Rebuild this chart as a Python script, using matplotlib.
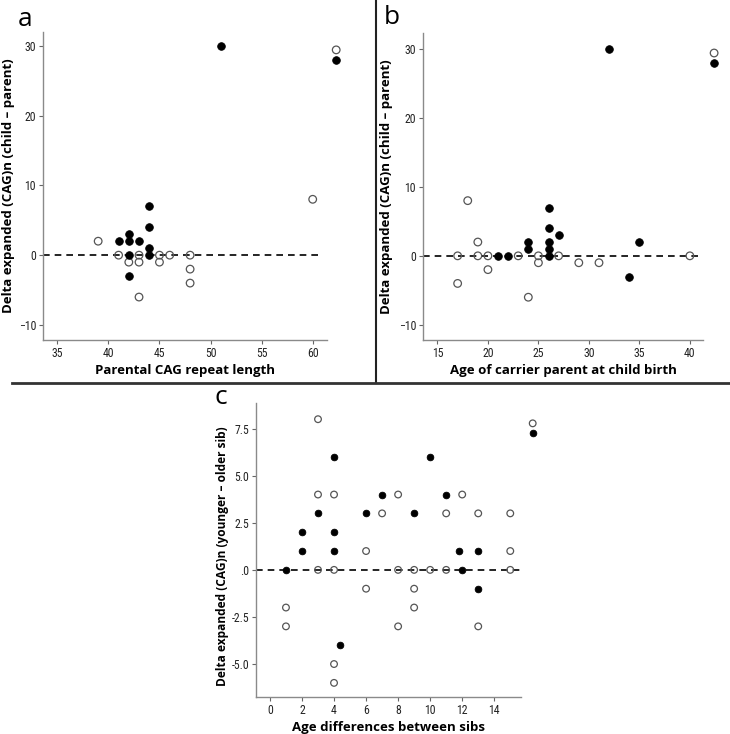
import numpy as np
import matplotlib
matplotlib.use("Agg")
import matplotlib.pyplot as plt
from matplotlib.lines import Line2D
from matplotlib.ticker import FuncFormatter
from matplotlib import font_manager

# panel a: parental CAG repeat length vs delta
a_filled_x = [51, 62.3, 41, 42, 42, 42, 42, 43, 44, 44, 44, 44]
a_filled_y = [30, 28, 2, 3, 2, 0, -3, 2, 7, 4, 1, 0]
a_open_x = [62.3, 60, 39, 41, 42, 43, 43, 43, 45, 45, 46, 48, 48, 48]
a_open_y = [29.4, 8, 2, 0, -1, 0, -1, -6, 0, -1, 0, 0, -2, -4]

# panel b: age of carrier parent vs delta
b_filled_x = [32, 42.4, 21, 22, 24, 24, 26, 26, 26, 26, 26, 27, 34, 35]
b_filled_y = [30, 28, 0, 0, 2, 1, 7, 4, 2, 1, 0, 3, -3, 2]
b_open_x = [42.4, 18, 17, 17, 19, 19, 20, 20, 23, 24, 25, 25, 27, 29, 31, 40]
b_open_y = [29.4, 8, 0, -4, 2, 0, 0, -2, 0, -6, 0, -1, 0, -1, -1, 0]

# panel c: age difference between sibs vs delta
c_filled_x = [1, 2, 2, 3, 4, 4, 4, 4.4, 6, 7, 9, 10, 11, 11.8, 12, 13, 13, 16.4]
c_filled_y = [0, 2, 1, 3, 6, 2, 1, -4, 3, 4, 3, 6, 4, 1, 0, 1, -1, 7.27]
c_open_x = [1, 1, 3, 3, 3, 4, 4, 4, 4, 6, 6, 7, 8, 8, 8, 9, 9, 9, 10, 11, 11, 12, 13, 13, 15, 15, 15, 16.4]
c_open_y = [-2, -3, 8, 4, 0, 4, 0, -5, -6, 1, -1, 3, 4, 0, -3, 0, -1, -2, 0, 3, 0, 4, 3, -3, 3, 1, 0, 7.78]


def pick_font(names, default):
    for n in names:
        try:
            font_manager.findfont(font_manager.FontProperties(family=n), fallback_to_default=False)
            return n
        except Exception:
            pass
    return default


# SPSS uses a narrow font for tick labels
tick_font = [pick_font(['Liberation Sans Narrow', 'DejaVu Sans Condensed', 'Roboto Condensed'], 'Roboto'), 'DejaVu Sans']
label_font = ['Open Sans', 'DejaVu Sans']

fig = plt.figure(figsize=(7.3, 7.34), dpi=100)


def style_axes(ax, xlabel, ylabel, ylab_size=9.5):
    for s in ['top', 'right']:
        ax.spines[s].set_visible(False)
    for s in ['left', 'bottom']:
        ax.spines[s].set_color('#8a8a8a')
        ax.spines[s].set_linewidth(1.0)
    ax.tick_params(direction='out', length=3, width=0.8, color='#666666',
                   labelsize=8.5, labelcolor='#222222', pad=2)
    for lab in ax.get_xticklabels() + ax.get_yticklabels():
        lab.set_family(tick_font)
    ax.set_xlabel(xlabel, fontsize=9.5, fontweight='bold', family=label_font, labelpad=3)
    ax.set_ylabel(ylabel, fontsize=ylab_size, fontweight='bold', family=label_font, labelpad=3)


def draw_points(ax, fx, fy, ox, oy, size):
    ax.scatter(ox, oy, s=size, facecolors='none', edgecolors='#555555',
               linewidths=0.9, zorder=3, clip_on=False)
    ax.scatter(fx, fy, s=size, facecolors='black', edgecolors='black',
               linewidths=0.6, zorder=4, clip_on=False)


# ---- panel a
ax1 = fig.add_axes([43 / 730, 1 - 340 / 734, 284 / 730, 308 / 734])
ax1.axhline(0, xmin=0, xmax=0.98, color='black', lw=1.2, ls=(0, (4, 3)), zorder=2)
draw_points(ax1, a_filled_x, a_filled_y, a_open_x, a_open_y, 30)
ax1.set_xlim(33.6, 61.4)
ax1.set_ylim(-12.15, 31.96)
ax1.set_xticks([35, 40, 45, 50, 55, 60])
ax1.set_yticks([-10, 0, 10, 20, 30])
style_axes(ax1, 'Parental CAG repeat length', 'Delta expanded (CAG)n (child \u2013 parent)')
ax1.yaxis.set_label_coords(-28 / 284, 0.5)

# ---- panel b
ax2 = fig.add_axes([423 / 730, 1 - 340 / 734, 280 / 730, 307 / 734])
ax2.axhline(0, color='black', lw=1.2, ls=(0, (4, 3)), zorder=2)
draw_points(ax2, b_filled_x, b_filled_y, b_open_x, b_open_y, 30)
ax2.set_xlim(13.57, 41.3)
ax2.set_ylim(-12.2, 32.3)
ax2.set_xticks([15, 20, 25, 30, 35, 40])
ax2.set_yticks([-10, 0, 10, 20, 30])
style_axes(ax2, 'Age of carrier parent at child birth', 'Delta expanded (CAG)n (child \u2013 parent)')
ax2.yaxis.set_label_coords(-30 / 280, 0.5)

# ---- panel c
ax3 = fig.add_axes([256 / 730, 1 - 697 / 734, 265 / 730, 294 / 734])
ax3.axhline(0, xmin=0, xmax=1.01, color='black', lw=1.2, ls=(0, (4, 3)), zorder=2)
draw_points(ax3, c_filled_x, c_filled_y, c_open_x, c_open_y, 23)
ax3.set_xlim(-0.87, 15.67)
ax3.set_ylim(-6.75, 8.86)
ax3.set_xticks([0, 2, 4, 6, 8, 10, 12, 14])
ax3.set_yticks([-5, -2.5, 0, 2.5, 5, 7.5])
ax3.yaxis.set_major_formatter(FuncFormatter(lambda v, p: '.0' if v == 0 else '%.1f' % v))
style_axes(ax3, 'Age differences between sibs', 'Delta expanded (CAG)n (younger \u2013 older sib)', 8.6)
ax3.yaxis.set_label_coords(-27 / 265, 0.48)

# panel letters
fig.text(25 / 730, 1 - 20 / 734, 'a', fontsize=19, family=label_font, ha='center', va='center')
fig.text(392 / 730, 1 - 18 / 734, 'b', fontsize=19, family=label_font, ha='center', va='center')
fig.text(221 / 730, 1 - 398 / 734, 'c', fontsize=19, family=label_font, ha='center', va='center')

# separators between panels
fig.add_artist(Line2D([376 / 730, 376 / 730], [1 - 383 / 734, 1.0], color='#222222', lw=1.5))
fig.add_artist(Line2D([12 / 730, 1.0], [1 - 383 / 734, 1 - 383 / 734], color='#333333', lw=2.0))

fig.savefig('out.png', dpi=100)
